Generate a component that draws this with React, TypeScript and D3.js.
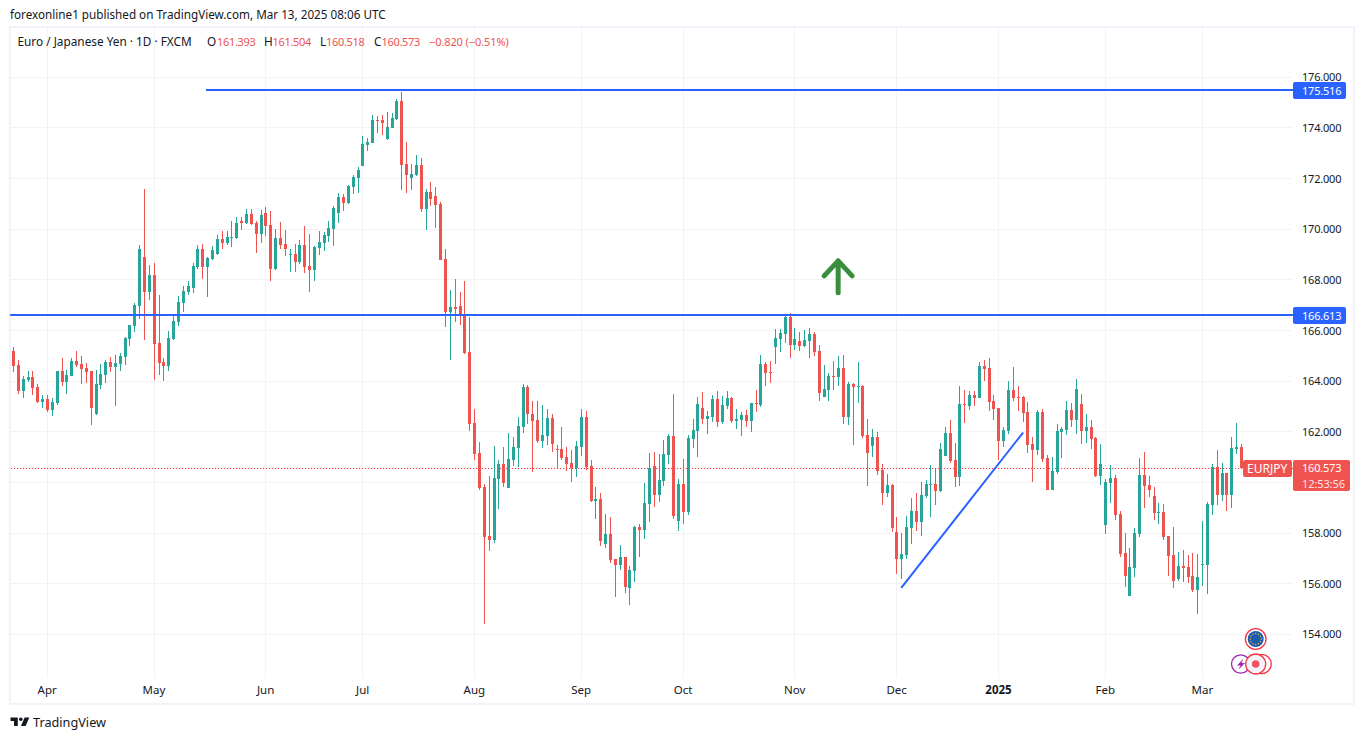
import React, { useEffect, useRef } from 'react';
import * as d3 from 'd3';

const opens = [
  165.19,164.64,163.61,164.04,164.16,163.77,163.18,163.29,162.86,163.14,
  164.40,163.97,164.20,164.79,164.68,164.52,164.40,162.70,163.85,164.24,
  164.76,164.56,164.68,164.95,165.66,166.17,166.96,168.90,167.52,168.19,
  165.50,164.76,164.60,165.66,166.33,167.08,167.52,167.68,168.50,169.21,
  168.50,168.82,169.02,169.61,169.45,169.65,169.65,170.32,170.25,170.60,
  170.25,169.81,170.64,170.17,168.43,169.65,169.42,168.98,169.02,168.70,
  169.38,168.55,168.39,169.26,169.46,169.73,170.01,170.64,171.27,171.04,
  171.67,172.02,172.50,173.33,173.40,174.31,174.31,173.56,174.00,174.35,
  175.06,172.58,172.02,172.14,172.54,170.80,171.47,171.31,171.00,168.82,
  166.73,166.93,166.97,166.65,165.15,162.35,161.16,159.82,157.88,157.73,
  160.14,160.73,159.78,160.89,161.36,162.19,163.77,162.70,162.47,161.64,
  161.83,162.55,161.32,161.32,161.00,160.77,160.57,161.40,162.58,160.65,
  159.27,159.35,157.57,157.96,156.98,156.74,157.05,155.83,156.50,158.24,
  158.12,159.15,160.65,159.50,160.06,161.08,161.83,158.48,159.94,158.83,
  161.72,162.03,162.94,162.51,162.58,163.30,162.39,163.02,163.33,162.43,
  162.47,162.66,162.43,163.14,163.06,164.68,164.36,165.35,165.67,165.86,
  166.53,165.43,165.59,165.39,165.59,165.86,165.19,163.37,163.65,164.20,
  164.16,164.52,162.58,163.89,163.77,163.81,161.87,161.44,161.79,160.49,
  159.58,159.90,158.04,156.98,157.13,158.20,158.87,158.44,159.46,159.90,
  159.94,159.66,161.04,161.95,160.89,160.21,163.10,163.02,163.45,163.33,
  164.60,164.52,163.22,162.94,161.64,162.03,163.65,163.37,163.37,162.78,
  161.52,161.28,162.78,160.97,159.70,160.41,161.99,162.07,162.86,162.47,
  163.10,162.03,162.19,161.75,160.25,158.32,159.98,160.17,158.75,157.21,
  155.51,156.62,157.96,160.29,159.90,159.46,158.79,158.83,157.88,157.13,
  156.19,156.70,156.66,156.30,155.75,156.74,156.74,159.11,160.61,159.50,
  160.37,159.50,161.32,161.393,
];

const closes = [
  164.60,163.61,164.08,164.16,163.73,163.18,163.29,162.86,163.18,164.40,
  163.97,164.24,164.79,164.64,164.48,164.36,162.94,163.89,164.28,164.76,
  164.56,164.72,164.99,165.70,166.21,167.00,169.21,167.52,168.19,165.46,
  164.72,164.60,165.70,166.37,167.12,167.56,167.75,168.54,169.21,168.50,
  168.86,169.18,169.61,169.45,169.69,169.69,170.24,170.25,170.60,170.21,
  169.81,170.56,170.13,168.43,169.65,169.38,169.22,169.02,168.70,169.38,
  168.51,168.39,169.30,169.49,169.77,170.05,170.84,171.27,171.04,171.71,
  172.06,172.34,173.37,173.44,174.31,174.27,174.20,174.04,174.39,175.06,
  172.54,172.14,172.18,172.54,170.80,171.47,171.19,170.96,168.78,166.73,
  166.93,166.85,166.61,165.11,162.31,161.12,159.78,157.85,157.73,160.18,
  160.73,159.98,160.93,161.40,162.23,163.77,162.70,162.43,161.64,161.87,
  162.55,161.52,161.28,160.96,160.73,160.57,161.44,162.58,160.61,159.27,
  159.35,157.69,157.96,156.94,156.74,157.05,155.87,156.54,158.24,158.12,
  159.19,160.57,159.50,160.10,161.12,161.83,158.67,159.94,158.83,161.75,
  162.07,163.10,162.51,162.62,163.30,162.39,163.06,163.33,162.43,162.51,
  162.66,162.43,163.14,163.10,164.68,164.32,164.32,165.70,165.90,166.53,
  165.43,165.67,165.39,165.63,165.86,165.15,163.53,163.69,164.20,164.16,
  164.52,162.58,163.89,163.77,163.81,161.83,161.16,161.79,160.45,159.58,
  159.90,158.20,156.98,157.17,158.24,158.87,158.44,159.50,159.94,159.94,
  159.66,161.32,161.95,160.85,160.21,163.10,163.06,163.45,163.33,164.60,
  164.48,163.18,162.90,161.64,162.07,163.65,163.33,163.33,162.74,161.48,
  161.28,162.78,160.93,159.70,160.45,162.03,162.11,162.86,162.47,163.69,
  162.03,162.19,161.72,160.25,160.73,160.02,160.17,158.71,157.17,156.30,
  156.66,158.00,160.29,159.86,159.70,158.79,158.83,157.84,157.09,156.11,
  156.70,156.62,156.26,155.75,156.26,156.78,159.15,160.61,159.50,160.37,
  159.50,161.36,161.40,160.573,
];

const highs = [
  165.35,164.83,164.20,164.40,164.40,163.89,163.45,163.45,163.33,164.40,
  164.91,164.44,164.91,165.19,164.99,164.72,164.40,164.44,164.68,164.83,
  164.95,165.03,165.11,165.74,166.21,167.08,169.37,171.58,168.58,168.66,
  167.40,164.91,165.98,166.57,167.36,167.75,167.95,168.66,169.37,169.41,
  168.90,169.33,169.77,169.93,169.93,170.32,170.48,170.48,170.80,170.80,
  170.32,170.76,170.88,170.72,170.01,170.28,169.97,169.22,169.42,169.57,
  170.13,169.81,169.34,169.93,169.89,170.32,170.92,171.43,171.39,171.75,
  172.14,172.46,173.68,173.60,174.51,174.47,174.51,174.63,174.59,175.14,
  175.42,173.44,172.58,172.93,172.81,171.59,171.87,171.67,171.07,169.22,
  167.60,168.03,167.52,167.95,166.53,162.90,161.60,159.94,160.25,161.44,
  160.89,161.40,161.95,161.79,162.58,163.89,163.85,163.22,163.22,163.06,
  162.90,162.70,161.48,162.19,161.40,161.28,161.64,162.90,162.82,160.89,
  159.82,159.58,158.75,158.63,156.98,157.53,157.05,156.70,158.28,158.36,
  159.98,161.16,161.20,161.12,161.68,161.91,163.49,160.14,160.93,161.87,
  162.51,163.37,163.57,162.82,163.45,163.61,163.41,163.61,163.37,162.90,
  162.78,162.86,163.14,163.65,165.03,164.76,164.80,166.06,166.06,166.57,
  166.69,166.10,165.94,166.02,166.10,165.94,165.43,164.64,164.32,164.80,
  164.99,165.03,163.97,163.93,164.76,163.85,162.51,162.11,161.99,160.73,
  160.33,159.94,158.63,158.00,158.67,159.38,159.58,160.02,160.10,160.69,
  160.53,161.56,162.19,162.47,161.56,163.81,163.65,163.61,163.61,164.76,
  164.84,164.91,163.45,162.94,162.19,164.01,164.56,163.81,163.41,163.18,
  161.79,162.86,162.90,161.08,161.00,162.31,162.19,163.22,163.14,164.08,
  163.50,162.70,162.47,161.79,161.52,160.13,160.69,160.29,158.87,158.00,
  157.41,158.20,160.96,161.20,160.25,159.82,159.19,159.15,157.88,158.24,
  157.25,157.33,157.13,157.21,157.17,158.48,159.23,160.73,161.28,160.77,
  160.37,161.79,162.35,161.504,
];

const lows = [
  164.36,163.49,163.33,163.97,163.45,163.14,162.94,162.78,162.62,163.06,
  163.81,163.49,164.20,164.56,163.89,163.93,162.27,162.66,163.69,163.93,
  164.36,163.02,164.40,164.64,165.38,165.94,166.45,165.62,167.20,164.04,
  164.24,164.00,164.40,165.62,166.17,166.73,167.40,167.48,168.43,168.03,
  167.32,168.78,168.98,169.21,169.37,169.29,169.61,169.97,170.21,170.17,
  169.06,169.46,169.73,167.95,168.39,169.22,168.94,168.31,168.31,168.63,
  168.27,167.52,167.95,168.98,169.14,169.49,169.34,170.25,170.72,171.00,
  171.39,171.43,172.50,173.09,173.40,173.80,173.72,173.52,174.00,174.31,
  171.55,171.43,171.55,172.10,170.68,169.97,170.92,170.05,168.78,166.14,
  164.83,166.34,166.22,165.07,162.03,160.89,159.70,154.41,157.29,157.61,
  158.95,159.82,159.78,160.65,160.61,161.95,162.31,160.41,161.56,161.36,
  161.48,161.20,160.53,160.89,160.45,160.02,160.21,161.04,160.49,159.23,
  158.56,157.49,157.41,156.82,155.47,156.54,155.63,155.16,156.07,157.05,
  157.77,158.44,159.03,159.23,159.86,160.73,158.56,158.08,158.36,158.71,
  161.36,161.00,162.31,161.91,162.39,162.19,162.31,162.90,162.35,162.11,
  161.83,162.19,161.99,162.78,162.98,163.81,163.93,164.68,165.15,165.51,
  164.91,165.23,165.19,165.35,164.91,164.99,163.22,163.37,163.22,163.65,
  163.81,162.31,162.27,161.48,163.14,161.75,159.86,161.00,160.29,159.11,
  159.42,158.04,156.38,156.19,156.98,157.57,158.08,157.88,159.38,158.63,
  159.11,159.62,161.04,160.77,159.82,159.86,162.35,162.86,163.02,163.33,
  164.01,162.82,162.47,160.89,161.40,161.91,163.22,162.82,162.39,161.16,
  160.02,161.08,160.81,159.70,159.70,160.33,160.97,161.87,162.19,161.91,
  161.52,161.56,161.32,160.21,159.90,157.96,159.19,158.52,157.05,155.87,
  155.51,156.26,157.84,158.99,159.42,158.52,158.36,157.73,156.30,155.83,
  156.11,156.07,156.03,155.67,154.80,155.91,155.59,158.71,159.11,159.27,
  158.87,158.99,161.12,160.518,
];

const priceTicks = [176, 174, 172, 170, 168, 166, 164, 162, 160, 158, 156, 154];
const monthIndex = [7, 29, 52, 72, 95, 117, 138, 161, 182, 203, 225, 245];
const monthLabels = ['Apr', 'May', 'Jun', 'Jul', 'Aug', 'Sep', 'Oct', 'Nov', 'Dec', '2025', 'Feb', 'Mar'];

const lastPrice = 160.573;
const levels = [
  { price: 175.516, from: 39.66 },
  { price: 166.613, from: -0.7 },
];
const trendIndex = [182.9, 208.0];
const trendPrice = [155.83, 161.97];
const arrowIndex = 169.9;
const arrowPrice = [168.75, 167.49];

const legendParts = [
  { text: 'O', x: 207, red: false },
  { text: '161.393', x: 217, red: true },
  { text: 'H', x: 264, red: false },
  { text: '161.504', x: 272.5, red: true },
  { text: 'L', x: 320, red: false },
  { text: '160.518', x: 326, red: true },
  { text: 'C', x: 374, red: false },
  { text: '160.573', x: 381.5, red: true },
  { text: '\u22120.820 (\u22120.51%)', x: 429, red: true },
];

const UP = '#26a69a';
const DOWN = '#ef5350';
const BLUE = '#2962ff';
const TEXT = '#131722';
const GRID = '#f0f3fa';
const FONT = '"Noto Sans", sans-serif';

const App: React.FC = () => {
  const ref = useRef<SVGSVGElement>(null);

  useEffect(() => {
    if (!ref.current) return;
    const svg = d3.select(ref.current);
    svg.selectAll('*').remove();
    svg.style('font-family', FONT).style('font-size', '12px');

    const x = d3.scaleLinear().domain([0, 253]).range([13.5, 1241.5]);
    const y = d3.scaleLinear().domain([154, 176]).range([634.3, 77.3]);
    const snap = (v: number) => Math.floor(v) + 0.5;
    const plotRight = 1293;

    // frame
    svg.append('rect')
      .attr('x', 10).attr('y', 27).attr('width', 1344).attr('height', 677)
      .attr('fill', 'none').attr('stroke', GRID).attr('stroke-width', 2);

    // grid
    svg.append('g').selectAll('line').data(priceTicks).enter().append('line')
      .attr('x1', 11).attr('x2', plotRight - 1)
      .attr('y1', (d: number) => snap(y(d))).attr('y2', (d: number) => snap(y(d)))
      .attr('stroke', '#f3f3f3');
    svg.append('g').selectAll('line').data(monthIndex).enter().append('line')
      .attr('x1', (d: number) => snap(x(d))).attr('x2', (d: number) => snap(x(d)))
      .attr('y1', 28).attr('y2', 678)
      .attr('stroke', '#f3f3f3');

    // last price line
    svg.append('line')
      .attr('x1', 11).attr('x2', plotRight)
      .attr('y1', Math.round(y(lastPrice)) + 0.5).attr('y2', Math.round(y(lastPrice)) + 0.5)
      .attr('stroke', '#f7323f').attr('stroke-width', 1.2).attr('stroke-dasharray', '1.2 1.8');

    // candles
    const candles = svg.append('g');
    opens.forEach((o, i) => {
      const c = closes[i];
      const color = c < o ? DOWN : UP;
      const cx = Math.floor(x(i));
      const top = Math.round(y(Math.max(o, c)));
      const bottom = Math.round(y(Math.min(o, c)));
      candles.append('rect')
        .attr('x', cx).attr('width', 1)
        .attr('y', Math.round(y(highs[i])))
        .attr('height', Math.max(1, Math.round(y(lows[i])) - Math.round(y(highs[i]))))
        .attr('fill', color);
      candles.append('rect')
        .attr('x', cx - 1).attr('width', 3)
        .attr('y', top)
        .attr('height', Math.max(1, bottom - top))
        .attr('fill', color);
    });

    // horizontal levels
    levels.forEach((lv) => {
      svg.append('line')
        .attr('x1', x(lv.from)).attr('x2', plotRight)
        .attr('y1', Math.round(y(lv.price))).attr('y2', Math.round(y(lv.price)))
        .attr('stroke', BLUE).attr('stroke-width', 2);
    });

    // trend line
    svg.append('line')
      .attr('x1', x(trendIndex[0])).attr('y1', y(trendPrice[0]))
      .attr('x2', x(trendIndex[1])).attr('y2', y(trendPrice[1]))
      .attr('stroke', BLUE).attr('stroke-width', 2);

    // arrow
    const ax = x(arrowIndex);
    const tip = y(arrowPrice[0]);
    const tail = y(arrowPrice[1]);
    svg.append('path')
      .attr('d', `M${ax},${tail}L${ax},${tip}M${ax - 14},${tip + 15}L${ax},${tip}L${ax + 14},${tip + 15}`)
      .attr('fill', 'none').attr('stroke', '#388e3c').attr('stroke-width', 5)
      .attr('stroke-linecap', 'round').attr('stroke-linejoin', 'round');

    // price axis
    const yAxis = svg.append('g')
      .attr('transform', `translate(${plotRight},0)`)
      .call(d3.axisRight(y).tickValues(priceTicks).tickFormat(d3.format('.3f')).tickSize(0).tickPadding(9));
    yAxis.select('.domain').remove();
    yAxis.selectAll('text')
      .attr('fill', TEXT).style('font-size', '11px').style('letter-spacing', '-0.2px').style('font-family', FONT);

    // time axis
    const xAxis = svg.append('g')
      .attr('transform', 'translate(-0.8,678)')
      .call(d3.axisBottom(x).tickValues(monthIndex)
        .tickFormat((_d: number, i: number) => monthLabels[i]).tickSize(0).tickPadding(8));
    xAxis.select('.domain').remove();
    xAxis.selectAll('text')
      .attr('fill', TEXT).style('font-size', '11.5px').style('font-family', FONT)
      .style('font-weight', (_d: number, i: number) => (monthLabels[i] === '2025' ? '700' : '400'));

    // price tags
    const tag = (px: number, py: number, w: number, h: number, fill: string) =>
      svg.append('rect').attr('x', px).attr('y', py).attr('width', w).attr('height', h).attr('rx', 2).attr('fill', fill);
    const label = (s: string, px: number, py: number, fill: string, size = 11.8, spacing = 0) =>
      svg.append('text').attr('x', px).attr('y', py).attr('fill', fill)
        .style('font-size', `${size}px`).style('letter-spacing', `${spacing}px`).text(s);

    levels.forEach((lv) => {
      const py = Math.round(y(lv.price));
      tag(plotRight, py - 8, 53, 17, BLUE);
      label(lv.price.toFixed(3), 1302, py + 4.5, '#ffffff', 11, -0.2);
    });
    tag(1243, 460, 49, 17, DOWN);
    label('EURJPY', 1247, 472.7, '#ffffff', 12);
    tag(plotRight, 460, 57, 31, DOWN);
    label(lastPrice.toFixed(3), 1302, 472, '#ffffff', 11, -0.2);
    label('12:53:56', 1302, 487.5, '#ffe4e4', 11, -0.1);

    // header
    label('forexonline1 published on TradingView.com, Mar 13, 2025 08:06 UTC', 10, 19, TEXT, 11.7);
    label('Euro / Japanese Yen \u00b7 1D \u00b7 FXCM', 17.5, 46, TEXT, 11.8);
    legendParts.forEach((p) => {
      if (p.red) label(p.text, p.x, 46, DOWN, 11, p.text.length > 7 ? -0.1 : -0.3);
      else label(p.text, p.x, 46, TEXT, 11.8);
    });

    // status badges
    const badges = svg.append('g');
    badges.append('circle').attr('cx', 1255.7).attr('cy', 639).attr('r', 10.3)
      .attr('fill', '#ffffff').attr('stroke', '#f23645').attr('stroke-width', 1.3);
    badges.append('circle').attr('cx', 1255.7).attr('cy', 639).attr('r', 8).attr('fill', '#1e5bb0');
    d3.range(12).forEach((k: number) => {
      const a = (k / 12) * 2 * Math.PI;
      badges.append('circle')
        .attr('cx', 1255.7 + 5.5 * Math.cos(a)).attr('cy', 639 + 5.5 * Math.sin(a))
        .attr('r', 0.7).attr('fill', '#f2c230');
    });
    badges.append('circle').attr('cx', 1240.7).attr('cy', 664).attr('r', 9.2)
      .attr('fill', '#ffffff').attr('stroke', '#9c27b0').attr('stroke-width', 1.3);
    badges.append('path').attr('d', 'M1243.5,658.5L1237,665.5L1240.5,665.5L1238.5,669.5L1245,663L1241.5,663Z').attr('fill', '#9c27b0');
    badges.append('circle').attr('cx', 1261.7).attr('cy', 664).attr('r', 9.6)
      .attr('fill', '#ffffff').attr('stroke', '#f23645').attr('stroke-width', 1.3);
    badges.append('circle').attr('cx', 1255.7).attr('cy', 664).attr('r', 10)
      .attr('fill', '#f0f3fa').attr('stroke', '#f23645').attr('stroke-width', 1.3);
    badges.append('circle').attr('cx', 1255.7).attr('cy', 664).attr('r', 3.8).attr('fill', '#f7525f');

    // logo
    svg.append('path')
      .attr('d', 'M10.5,717.5H17.8V726H14V721H10.5ZM24.6,717.5H29.3L25.6,726H21Z')
      .attr('fill', TEXT);
    svg.append('circle').attr('cx', 20.8).attr('cy', 719.2).attr('r', 1.8).attr('fill', TEXT);
    label('TradingView', 33, 726.5, TEXT, 12.7);
  }, []);

  return (
    <svg
      ref={ref}
      width={1364}
      height={740}
      style={{ position: 'absolute', left: 0, top: 0, background: '#ffffff', display: 'block' }}
    />
  );
};

export default App;
